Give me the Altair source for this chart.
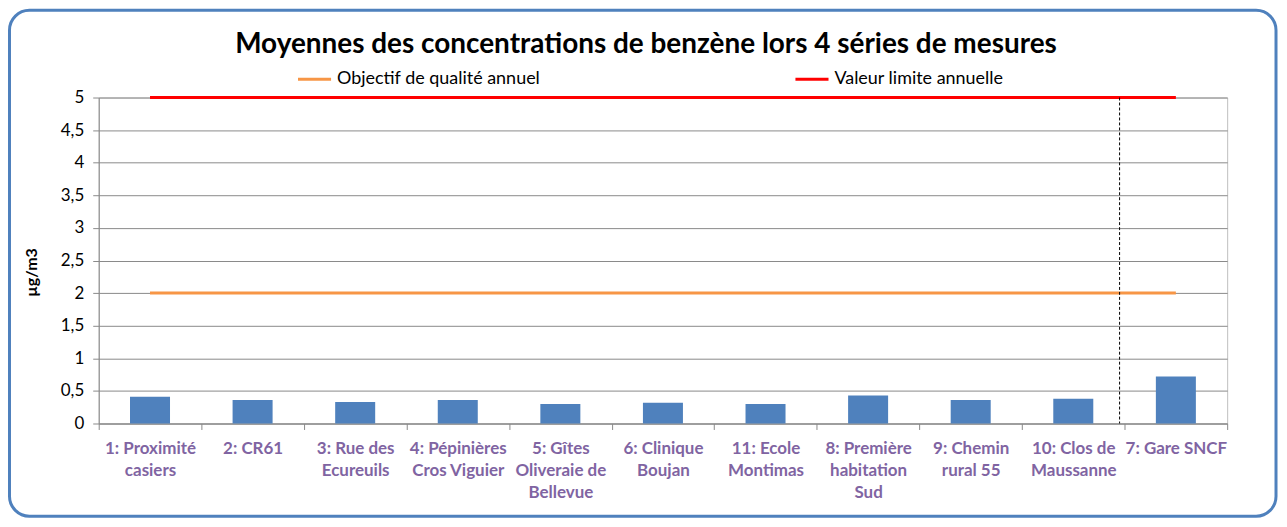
import json
import altair as alt
import pandas as pd

# ---- data ----
sites = [
    "1: Proximité casiers",
    "2: CR61",
    "3: Rue des Ecureuils",
    "4: Pépinières Cros Viguier",
    "5: Gîtes Oliveraie de Bellevue",
    "6: Clinique Boujan",
    "11: Ecole Montimas",
    "8: Première habitation Sud",
    "9: Chemin rural 55",
    "10: Clos de Maussanne",
    "7: Gare SNCF",
]
site_lines = [
    ["1: Proximité", "casiers"],
    ["2: CR61"],
    ["3: Rue des", "Ecureuils"],
    ["4: Pépinières", "Cros Viguier"],
    ["5: Gîtes", "Oliveraie de", "Bellevue"],
    ["6: Clinique", "Boujan"],
    ["11: Ecole", "Montimas"],
    ["8: Première", "habitation", "Sud"],
    ["9: Chemin", "rural 55"],
    ["10: Clos de", "Maussanne"],
    ["7: Gare SNCF"],
]
benzene = [0.41, 0.36, 0.33, 0.36, 0.30, 0.32, 0.30, 0.43, 0.36, 0.38, 0.72]

objectif_label = "Objectif de qualité annuel"
limite_label = "Valeur limite annuelle"
objectif_value = 2
limite_value = 5
separator_site = "7: Gare SNCF"

y_ticks = [0, 0.5, 1, 1.5, 2, 2.5, 3, 3.5, 4, 4.5, 5]

title_text = "Moyennes des concentrations de benzène lors 4 séries de mesures"
y_title = "µg/m3"

# ---- tables ----
n = len(sites)
bars_df = pd.DataFrame({"site": sites, "benzene": benzene})
lines_df = pd.DataFrame({
    "site": sites + sites,
    "value": [objectif_value] * n + [limite_value] * n,
    "serie": [objectif_label] * n + [limite_label] * n,
})
sep_df = pd.DataFrame({"site": [separator_site], "top": [limite_value], "bottom": [0]})
frame_df = pd.DataFrame({"k": [0]})

label_expr = (
    json.dumps(site_lines, ensure_ascii=False)
    + "[indexof("
    + json.dumps(sites, ensure_ascii=False)
    + ", datum.label)]"
)

FONT = "Lato"
GRID = "#8A8A8A"

x_axis = alt.Axis(
    title=None,
    labelAngle=0,
    labelExpr=label_expr,
    labelFont=FONT,
    labelFontSize=17,
    labelFontWeight="bold",
    labelColor="#8064A2",
    labelLineHeight=22,
    labelBaseline="top",
    labelPadding=11,
    labelLimit=200,
    tickBand="extent",
    tickSize=6,
    tickColor=GRID,
    domainColor=GRID,
    grid=False,
)

y_axis = alt.Axis(
    title=y_title,
    titleFont=FONT,
    titleFontSize=16,
    titleFontWeight="bold",
    titleColor="black",
    titleX=-67,
    titleY=175,
    titleBaseline="middle",
    values=y_ticks,
    labelOverlap=False,
    labelExpr="replace(toString(datum.value), '.', ',')",
    labelFont=FONT,
    labelFontSize=17,
    labelColor="black",
    labelPadding=9,
    tickSize=6,
    tickColor=GRID,
    domainColor=GRID,
    gridColor=GRID,
)
y_scale = alt.Scale(domain=[0, 5], nice=False)
x_scale = alt.Scale(paddingInner=0, paddingOuter=0)

frame = alt.Chart(frame_df).mark_rect(
    filled=False, stroke="#4F81BD", strokeWidth=3, cornerRadius=20
).encode(
    x=alt.value(-89.5), x2=alt.value(1181), y=alt.value(-87.5), y2=alt.value(420)
)

bars = alt.Chart(bars_df).mark_bar(
    color="#4F81BD", width=alt.RelativeBandSize(0.39)
).encode(
    x=alt.X("site:N", sort=sites, scale=x_scale, axis=x_axis),
    y=alt.Y("benzene:Q", scale=y_scale, axis=y_axis),
)

lines = alt.Chart(lines_df).mark_line(strokeWidth=3).encode(
    x=alt.X("site:N", sort=sites, scale=x_scale, axis=x_axis),
    y=alt.Y("value:Q", scale=y_scale, axis=y_axis),
    color=alt.Color(
        "serie:N",
        scale=alt.Scale(domain=[objectif_label, limite_label], range=["#F79646", "#FF0000"]),
        legend=alt.Legend(
            title=None,
            orient="none",
            legendX=198,
            legendY=-37,
            direction="horizontal",
            columns=2,
            columnPadding=249,
            symbolType="stroke",
            symbolSize=1100,
            symbolStrokeWidth=3,
            labelFont=FONT,
            labelFontSize=18,
            labelColor="black",
            labelOffset=4,
            labelLimit=400,
            padding=0,
        ),
    ),
)

sep = alt.Chart(sep_df).mark_rule(
    color="black", strokeDash=[3, 2], strokeWidth=1, xOffset=-5
).encode(
    x=alt.X("site:N", sort=sites, bandPosition=0),
    y=alt.Y("top:Q", scale=y_scale, axis=y_axis),
    y2="bottom:Q",
)

chart = alt.layer(frame, bars, lines, sep).properties(
    width=1132,
    height=327,
    padding={"left": 91, "top": 89, "right": 52, "bottom": 95},
    autosize=alt.AutoSizeParams(type="none"),
    background="white",
    title=alt.TitleParams(
        text=title_text,
        font=FONT,
        fontSize=28,
        fontWeight="bold",
        color="black",
        anchor="middle",
        frame="group",
        dx=-17,
        offset=-50,
    ),
).configure_view(stroke="#BFBFBF", strokeWidth=1)

chart.save("out.html", embed_options={"renderer": "svg", "actions": False})
